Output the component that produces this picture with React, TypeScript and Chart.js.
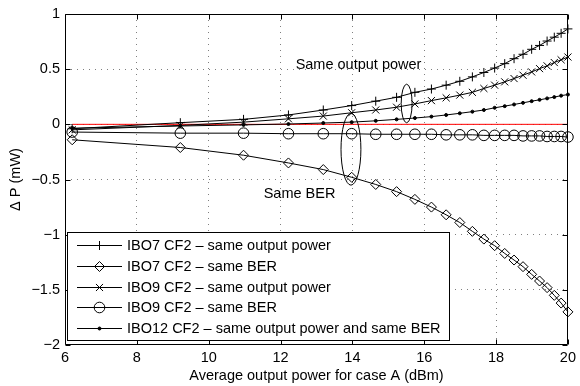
import React, { useEffect, useRef } from 'react';
import { Chart, registerables } from 'chart.js';
import { drawPoint } from 'chart.js/helpers';

Chart.register(...registerables);

const FONT = "'Liberation Sans', Arial, Helvetica, sans-serif";
const FONT_SIZE = 14.5;

// Average output power for case A (dBm)
const xPower = [6.2, 9.21, 10.97, 12.22, 13.19, 13.98, 14.65, 15.23, 15.74, 16.2, 16.61, 16.99, 17.34, 17.66, 17.96, 18.24, 18.5, 18.75, 18.99, 19.21, 19.42, 19.62, 19.81, 20];

// Delta P (mW)
const ibo7SamePower = [-0.04, 0.015, 0.045, 0.085, 0.13, 0.17, 0.21, 0.245, 0.29, 0.32, 0.355, 0.39, 0.43, 0.47, 0.51, 0.55, 0.595, 0.635, 0.68, 0.715, 0.755, 0.79, 0.825, 0.865];
const ibo7SameBer = [-0.14, -0.21, -0.28, -0.35, -0.41, -0.48, -0.545, -0.61, -0.68, -0.75, -0.82, -0.89, -0.97, -1.04, -1.1, -1.17, -1.23, -1.29, -1.36, -1.42, -1.48, -1.55, -1.62, -1.7];
const ibo9SamePower = [-0.05, -0.01, 0.02, 0.05, 0.075, 0.105, 0.13, 0.155, 0.185, 0.215, 0.24, 0.265, 0.29, 0.325, 0.355, 0.385, 0.415, 0.445, 0.475, 0.505, 0.53, 0.56, 0.585, 0.61];
const ibo9SameBer = [-0.07, -0.08, -0.08, -0.085, -0.085, -0.085, -0.09, -0.09, -0.09, -0.09, -0.095, -0.095, -0.095, -0.1, -0.1, -0.1, -0.1, -0.105, -0.105, -0.105, -0.11, -0.11, -0.11, -0.115];
const ibo12Both = [-0.035, -0.015, -0.005, 0.003, 0.012, 0.02, 0.032, 0.045, 0.057, 0.07, 0.085, 0.1, 0.115, 0.13, 0.15, 0.165, 0.18, 0.195, 0.21, 0.222, 0.235, 0.247, 0.26, 0.27];

// reference zero line
const zeroLineX = [6.2, 20];
const zeroLineY = [0, 0];

const seriesLabels = [
  'IBO7 CF2 – same output power',
  'IBO7 CF2 – same BER',
  'IBO9 CF2 – same output power',
  'IBO9 CF2 – same BER',
  'IBO12 CF2 – same output power and same BER',
];

const xTicks = [6, 8, 10, 12, 14, 16, 18, 20];
const yTicks = [-2, -1.5, -1, -0.5, 0, 0.5, 1];
const yTickLabels = ['−2', '−1.5', '−1', '−0.5', '0', '0.5', '1'];

const xTitle = 'Average output power for case A (dBm)';
const yTitle = 'Δ P (mW)';

const annotationTexts = ['Same output power', 'Same BER'];

// annotation geometry (data units)
const ANN = {
  ellipses: [
    { cx: 15.51, cy: 0.189, rx: 0.152, ry: 0.175 },
    { cx: 13.96, cy: -0.226, rx: 0.277, ry: 0.325 },
  ],
  texts: [
    { x: 12.42, y: 0.542 },
    { x: 11.53, y: -0.632 },
  ],
};

type Pt = { x: number; y: number };
const toPoints = (xs: number[], ys: number[]): Pt[] => xs.map((x, i) => ({ x, y: ys[i] }));

const frameAndLegend = {
  id: 'frameAndLegend',
  afterDraw(chart: any) {
    const { ctx, chartArea } = chart;
    const xs = chart.scales.x;
    const ys = chart.scales.y;
    const { left, right, top, bottom } = chartArea;
    ctx.save();

    // annotations: ellipses
    ctx.strokeStyle = '#000';
    ctx.lineWidth = 1;
    ANN.ellipses.forEach((e) => {
      const cx = xs.getPixelForValue(e.cx);
      const cy = ys.getPixelForValue(e.cy);
      const rx = Math.abs(xs.getPixelForValue(e.cx + e.rx) - cx);
      const ry = Math.abs(ys.getPixelForValue(e.cy + e.ry) - cy);
      ctx.beginPath();
      ctx.ellipse(cx, cy, rx, ry, 0, 0, Math.PI * 2);
      ctx.stroke();
    });
    // annotation texts
    ctx.fillStyle = '#000';
    ctx.font = `${FONT_SIZE}px ${FONT}`;
    ctx.textAlign = 'left';
    ctx.textBaseline = 'middle';
    ANN.texts.forEach((t, i) => {
      ctx.fillText(annotationTexts[i], xs.getPixelForValue(t.x), ys.getPixelForValue(t.y));
    });

    // axes box
    ctx.strokeStyle = '#000';
    ctx.lineWidth = 1;
    const L = Math.round(left) + 0.5;
    const R = Math.round(right) - 0.5;
    const T = Math.round(top) + 0.5;
    const B = Math.round(bottom) - 0.5;
    ctx.beginPath();
    ctx.rect(L, T, R - L, B - T);
    ctx.stroke();
    // inward ticks
    const tl = 5;
    ctx.beginPath();
    xTicks.forEach((v) => {
      const px = Math.round(xs.getPixelForValue(v)) + 0.5;
      ctx.moveTo(px, B);
      ctx.lineTo(px, B - tl);
      ctx.moveTo(px, T);
      ctx.lineTo(px, T + tl);
    });
    yTicks.forEach((v) => {
      const py = Math.round(ys.getPixelForValue(v)) + 0.5;
      ctx.moveTo(L, py);
      ctx.lineTo(L + tl, py);
      ctx.moveTo(R, py);
      ctx.lineTo(R - tl, py);
    });
    ctx.stroke();

    // legend box
    const bx = 67.5, by = 232.5, bw = 382, bh = 108;
    ctx.fillStyle = '#fff';
    ctx.fillRect(bx, by, bw, bh);
    ctx.strokeStyle = '#000';
    ctx.lineWidth = 1;
    ctx.strokeRect(bx, by, bw, bh);
    const rowY0 = 245;
    const rowStep = 20.8;
    chart.data.datasets.forEach((ds: any, i: number) => {
      if (i >= seriesLabels.length) return;
      const y = Math.round(rowY0 + i * rowStep) + 0.5;
      ctx.strokeStyle = '#000';
      ctx.lineWidth = 1;
      ctx.beginPath();
      ctx.moveTo(77, y);
      ctx.lineTo(122, y);
      ctx.stroke();
      ctx.fillStyle = ds.pointBackgroundColor;
      ctx.strokeStyle = '#000';
      drawPoint(ctx, { pointStyle: ds.pointStyle, radius: ds.pointRadius, rotation: 0, borderWidth: 1 }, 99.5, y);
      ctx.fillStyle = '#000';
      ctx.font = `${FONT_SIZE}px ${FONT}`;
      ctx.textAlign = 'left';
      ctx.textBaseline = 'middle';
      ctx.fillText(ds.label, 127, y);
    });
    ctx.restore();
  },
};

export default function App() {
  const ref = useRef<HTMLCanvasElement>(null);
  useEffect(() => {
    const canvas = ref.current;
    if (!canvas) return;
    const mk = (label: string, ys: number[], pointStyle: string, radius: number, filled: boolean) => ({
      label,
      data: toPoints(xPower, ys),
      borderColor: '#000',
      borderWidth: 1,
      pointStyle,
      pointRadius: radius,
      pointBorderColor: '#000',
      pointBorderWidth: 1,
      pointBackgroundColor: filled ? '#000' : 'rgba(0,0,0,0)',
      tension: 0,
      fill: false,
      clip: false,
    });
    const datasets: any[] = [
      mk(seriesLabels[0], ibo7SamePower, 'cross', 4.5, false),
      mk(seriesLabels[1], ibo7SameBer, 'rectRot', 5, false),
      mk(seriesLabels[2], ibo9SamePower, 'crossRot', 5, false),
      mk(seriesLabels[3], ibo9SameBer, 'circle', 5.3, false),
      mk(seriesLabels[4], ibo12Both, 'circle', 1.5, true),
      {
        label: '',
        data: toPoints(zeroLineX, zeroLineY),
        borderColor: '#ff0000',
        borderWidth: 1,
        pointRadius: 0,
        fill: false,
        clip: false,
      },
    ];
    const font = { family: FONT, size: FONT_SIZE };
    const gridColor = (edgeVals: number[]) => (c: any) =>
      c.tick && edgeVals.includes(c.tick.value) ? 'rgba(0,0,0,0)' : 'rgba(0,0,0,0.5)';
    const chart = new Chart(canvas, {
      type: 'line',
      data: { datasets },
      plugins: [frameAndLegend],
      options: {
        responsive: false,
        animation: false,
        devicePixelRatio: 1,
        layout: { padding: { top: 14, right: 9, left: 0, bottom: 0 } },
        plugins: { legend: { display: false }, tooltip: { enabled: false } },
        scales: {
          x: {
            type: 'linear',
            min: 6,
            max: 20,
            afterBuildTicks: (s: any) => {
              s.ticks = xTicks.map((v) => ({ value: v }));
            },
            afterFit: (s: any) => {
              s.height = 41;
            },
            ticks: { color: '#000', font, padding: 4, maxRotation: 0, autoSkip: false, callback: (v: any) => String(v) },
            grid: { color: gridColor([6, 20]), drawTicks: false, lineWidth: 1 },
            border: { display: false, dash: [1, 5] },
            title: { display: true, text: xTitle, color: '#000', font, padding: { top: 0, bottom: 1 } },
          },
          y: {
            type: 'linear',
            min: -2,
            max: 1,
            afterBuildTicks: (s: any) => {
              s.ticks = yTicks.map((v) => ({ value: v }));
            },
            afterFit: (s: any) => {
              s.width = 65;
            },
            ticks: {
              color: '#000',
              font,
              padding: 5,
              autoSkip: false,
              callback: (v: any) => {
                const i = yTicks.indexOf(Number(v));
                return i >= 0 ? yTickLabels[i] : String(v);
              },
            },
            grid: { color: gridColor([-2, 1]), drawTicks: false, lineWidth: 1 },
            border: { display: false, dash: [1, 5] },
            title: { display: true, text: yTitle, color: '#000', font, padding: { top: 7, bottom: 0 } },
          },
        },
      } as any,
    });
    return () => chart.destroy();
  }, []);
  return (
    <div style={{ position: 'fixed', left: 0, top: 0, width: 580, height: 386, background: '#fff' }}>
      <canvas ref={ref} width={580} height={386} style={{ display: 'block' }} />
    </div>
  );
}
